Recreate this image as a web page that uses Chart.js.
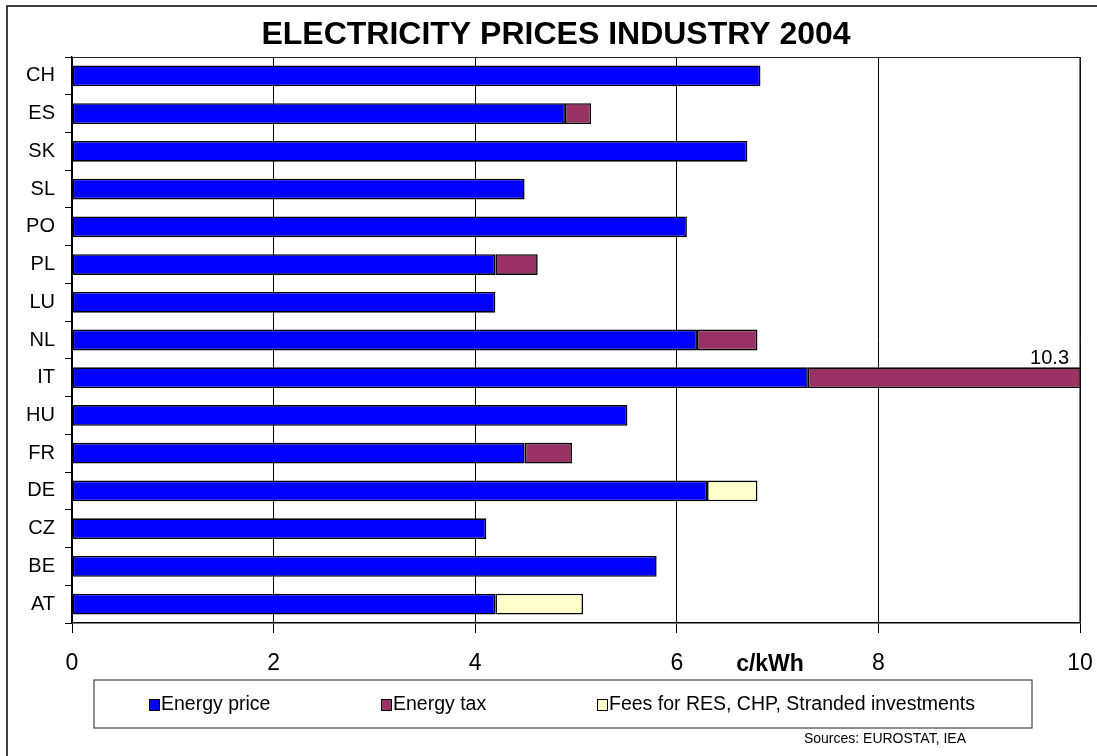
<!DOCTYPE html>
<html>
<head>
<meta charset="utf-8">
<script src="https://cdn.jsdelivr.net/npm/chart.js@4/dist/chart.umd.min.js"></script>
<style>
  html, body { margin: 0; padding: 0; background: #fff; }
  #wrap { width: 1097px; height: 756px; position: relative; }
</style>
</head>
<body>
<div id="wrap"><canvas id="c" width="1097" height="756"></canvas></div>
<script>
const titleText = 'ELECTRICITY PRICES INDUSTRY 2004';
const axisUnit = 'c/kWh';
const sourceText = 'Sources: EUROSTAT, IEA';
const countries = ['CH','ES','SK','SL','PO','PL','LU','NL','IT','HU','FR','DE','CZ','BE','AT'];
const energyPrice = [6.83, 4.89, 6.70, 4.49, 6.10, 4.20, 4.20, 6.20, 7.30, 5.51, 4.49, 6.30, 4.11, 5.80, 4.20];
const energyTax   = [null, 0.26, null, null, null, 0.42, null, 0.60, 3.00, null, 0.47, null, null, null, null];
const feesRES     = [null, null, null, null, null, null, null, null, null, null, null, 0.50, null, null, 0.87];
const seriesNames = ['Energy price', 'Energy tax', 'Fees for RES, CHP, Stranded investments'];
const xTicks = [0, 2, 4, 6, 8, 10];
const overflowLabels = ['10.3'];

const FONT = '"Liberation Sans", Arial, sans-serif';

const decor = {
  id: 'decor',
  afterDraw(chart) {
    const ctx = chart.ctx;
    const a = chart.chartArea;
    ctx.save();
    // outer border
    ctx.strokeStyle = '#000';
    ctx.lineWidth = 1.5;
    ctx.strokeRect(7, 6, 1200, 1000);
    // plot area top/right border
    ctx.strokeStyle = '#222';
    ctx.lineWidth = 1.2;
    ctx.beginPath();
    ctx.moveTo(a.left, a.top + 0.5);
    ctx.lineTo(a.right, a.top + 0.5);
    ctx.lineTo(a.right, a.bottom);
    ctx.stroke();
    // title
    ctx.fillStyle = '#000';
    ctx.font = 'bold 32px ' + FONT;
    ctx.textAlign = 'center';
    ctx.textBaseline = 'middle';
    ctx.fillText(titleText, 556, 35);
    // axis unit
    ctx.font = 'bold 23px ' + FONT;
    ctx.fillText(axisUnit, 770, 665);
    // overflow label for IT
    const idx = countries.indexOf('IT');
    const meta = chart.getDatasetMeta(0).data[idx];
    const barTop = meta.y - meta.height / 2;
    ctx.font = '20px ' + FONT;
    ctx.textAlign = 'right';
    ctx.textBaseline = 'alphabetic';
    ctx.fillText(overflowLabels[0], a.right - 11, barTop - 3);
    // legend box
    ctx.strokeStyle = '#444';
    ctx.lineWidth = 1.2;
    ctx.strokeRect(94, 680, 938, 48);
    const lx = [149, 381, 597];
    ctx.font = '19.5px ' + FONT;
    ctx.textAlign = 'left';
    ctx.textBaseline = 'middle';
    chart.data.datasets.forEach((ds, i) => {
      ctx.fillStyle = ds.backgroundColor;
      ctx.fillRect(lx[i], 699, 10, 11);
      ctx.strokeStyle = '#000';
      ctx.lineWidth = 1;
      ctx.strokeRect(lx[i] + 0.5, 699.5, 10, 11);
      ctx.fillStyle = '#000';
      ctx.fillText(ds.label, lx[i] + 12, 705);
    });
    // sources
    ctx.font = '14px ' + FONT;
    ctx.textAlign = 'right';
    ctx.fillText(sourceText, 966, 739);
    ctx.restore();
  }
};

new Chart(document.getElementById('c'), {
  type: 'bar',
  data: {
    labels: countries,
    datasets: [
      { label: seriesNames[0], data: energyPrice, backgroundColor: '#0000FF', borderColor: '#000', borderWidth: 1.6, borderSkipped: false },
      { label: seriesNames[1], data: energyTax,   backgroundColor: '#993366', borderColor: '#000', borderWidth: 1.6, borderSkipped: false },
      { label: seriesNames[2], data: feesRES,     backgroundColor: '#FFFFCC', borderColor: '#000', borderWidth: 1.6, borderSkipped: false }
    ]
  },
  options: {
    indexAxis: 'y',
    responsive: false,
    animation: false,
    layout: { padding: { top: 57, right: 17, left: 0, bottom: 0 } },
    plugins: {
      legend: { display: false },
      title: { display: false },
      tooltip: { enabled: false }
    },
    datasets: { bar: { barPercentage: 0.55, categoryPercentage: 1.0 } },
    scales: {
      x: {
        stacked: true,
        min: 0, max: 10,
        afterBuildTicks(scale) { scale.ticks = xTicks.map(v => ({ value: v })); },
        afterFit(scale) { scale.height = 133; scale.paddingRight = 0; scale.paddingLeft = 0; },
        grid: { color: '#000', lineWidth: 1, drawTicks: true, tickLength: 10, tickColor: '#000' },
        border: { display: true, color: '#000', width: 1.5 },
        ticks: { color: '#000', font: { family: FONT, size: 23 }, padding: 17, maxRotation: 0 }
      },
      y: {
        stacked: true,
        afterFit(scale) { scale.width = 72; scale.paddingTop = 0; scale.paddingBottom = 0; },
        grid: { offset: true, drawOnChartArea: false, drawTicks: true, tickLength: 7, color: '#000' },
        border: { display: true, color: '#000', width: 1.5 },
        ticks: { color: '#000', font: { family: FONT, size: 20 }, padding: 10 }
      }
    }
  },
  plugins: [decor]
});
</script>
</body>
</html>
